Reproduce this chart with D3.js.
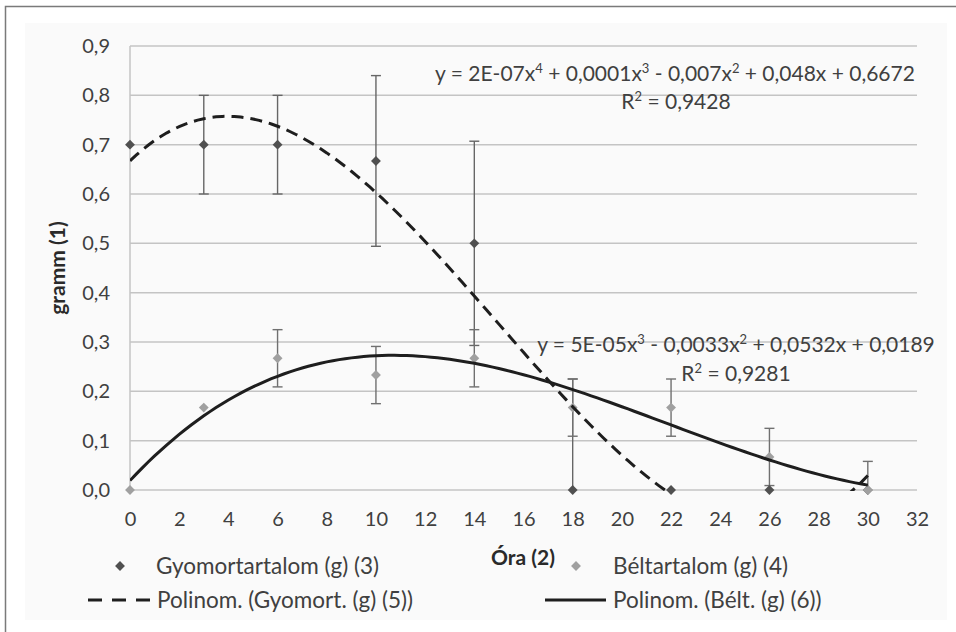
<!DOCTYPE html>
<html>
<head>
<meta charset="utf-8">
<script src="https://cdn.jsdelivr.net/npm/d3@7"></script>
<style>
  body { margin: 0; background: #fff; }
  svg text { font-family: Lato, "Open Sans", sans-serif; fill: #404040; }
</style>
</head>
<body>
<svg id="chart" width="956" height="632"></svg>
<script>
// data
var hours = [0, 3, 6, 10, 14, 18, 22, 26, 30];
var gyomor = [0.7, 0.7, 0.7, 0.667, 0.5, 0, 0, 0, 0];
var gyomorErr = [0, 0.1, 0.1, 0.173, 0.207, 0.225, 0, 0, 0];
var belt = [0, 0.167, 0.267, 0.233, 0.267, 0.167, 0.167, 0.067, 0];
var beltErr = [0, 0, 0.058, 0.058, 0.058, 0.058, 0.058, 0.058, 0.058];
var xTicks = d3.range(0, 33, 2);
var yTicks = [0, 0.1, 0.2, 0.3, 0.4, 0.5, 0.6, 0.7, 0.8, 0.9];

(function () {
var svg = d3.select("#chart");
var pLeft = 130, pRight = 917, pTop = 46, pBottom = 490;

var x = d3.scaleLinear().domain([0, 32]).range([pLeft, pRight]);
var y = d3.scaleLinear().domain([0, 0.9]).range([pBottom, pTop]);
var fmt = function (v) { return d3.format(".1f")(v).replace(".", ","); };

// frame + chart area
svg.append("rect").attr("x", 5.5).attr("y", 6.5).attr("width", 960).attr("height", 640)
    .attr("fill", "#fff").attr("stroke", "#7a7a7a").attr("stroke-width", 1.5);
svg.append("rect").attr("x", 25).attr("y", 23).attr("width", 922).attr("height", 597)
    .attr("fill", "#fafafa");

// grid
var grid = svg.append("g").attr("class", "grid");
grid.selectAll("line").data(yTicks).enter().append("line")
    .attr("x1", pLeft).attr("x2", pRight)
    .attr("y1", function (d) { return y(d); }).attr("y2", function (d) { return y(d); })
    .attr("stroke", "#c4c4c4").attr("stroke-width", 1.5);
grid.append("line").attr("x1", pLeft).attr("x2", pLeft).attr("y1", pTop).attr("y2", pBottom)
    .attr("stroke", "#c4c4c4").attr("stroke-width", 1.5);

// axes (labels only)
var yAxis = d3.axisLeft(y).tickValues(yTicks).tickFormat(fmt).tickSize(0).tickPadding(20);
var gy = svg.append("g").attr("transform", "translate(" + pLeft + ",0)").call(yAxis);
var xAxis = d3.axisBottom(x).tickValues(xTicks).tickSize(0).tickPadding(22);
var gx = svg.append("g").attr("transform", "translate(0," + pBottom + ")").call(xAxis);
[gx, gy].forEach(function (g) {
    g.select(".domain").remove();
    g.selectAll("text").style("font-size", "20px").attr("fill", "#444");
});

svg.append("text").attr("transform", "translate(65,268) rotate(-90)")
    .attr("text-anchor", "middle").style("font-size", "21px").style("font-weight", "bold")
    .style("fill", "#2a2a2a").text("gramm (1)");
svg.append("text").attr("x", 523).attr("y", 565).attr("text-anchor", "middle")
    .style("font-size", "21px").style("font-weight", "bold").style("fill", "#2a2a2a").text("Óra (2)");

// least squares polynomial fit (what the spreadsheet trendline does)
function polyfit(xs, ys, order) {
    var n = order + 1, A = [], b = [];
    for (var i = 0; i < n; i++) {
        A.push([]);
        for (var j = 0; j < n; j++) A[i].push(d3.sum(xs, function (v) { return Math.pow(v, i + j); }));
        b.push(d3.sum(xs, function (v, k) { return ys[k] * Math.pow(v, i); }));
    }
    for (var c = 0; c < n; c++) {
        var p = c;
        for (var r = c + 1; r < n; r++) if (Math.abs(A[r][c]) > Math.abs(A[p][c])) p = r;
        var t = A[c]; A[c] = A[p]; A[p] = t; var tb = b[c]; b[c] = b[p]; b[p] = tb;
        for (var r2 = c + 1; r2 < n; r2++) {
            var f = A[r2][c] / A[c][c];
            for (var k = c; k < n; k++) A[r2][k] -= f * A[c][k];
            b[r2] -= f * b[c];
        }
    }
    var coef = new Array(n);
    for (var r3 = n - 1; r3 >= 0; r3--) {
        var s = b[r3];
        for (var k2 = r3 + 1; k2 < n; k2++) s -= A[r3][k2] * coef[k2];
        coef[r3] = s / A[r3][r3];
    }
    return function (v) { return d3.sum(coef, function (cf, i) { return cf * Math.pow(v, i); }); };
}

svg.append("clipPath").attr("id", "plotclip").append("rect")
    .attr("x", pLeft).attr("y", pTop).attr("width", pRight - pLeft).attr("height", pBottom - pTop + 1);

// error bars
function errorBars(vals, errs, color) {
    var g = svg.append("g").attr("clip-path", "url(#plotclip)");
    hours.forEach(function (h, i) {
        if (!errs[i]) return;
        var lo = vals[i] - errs[i], hi = vals[i] + errs[i];
        g.append("line").attr("x1", x(h)).attr("x2", x(h)).attr("y1", y(lo)).attr("y2", y(hi))
            .attr("stroke", color).attr("stroke-width", 1.4);
        [lo, hi].forEach(function (v) {
            g.append("line").attr("x1", x(h) - 5).attr("x2", x(h) + 5).attr("y1", y(v)).attr("y2", y(v))
                .attr("stroke", color).attr("stroke-width", 1.4);
        });
    });
}
errorBars(gyomor, gyomorErr, "#666");
errorBars(belt, beltErr, "#707070");

var diamond = d3.symbol().type(d3.symbolDiamond2).size(62);
function markers(vals, color) {
    svg.append("g").selectAll("path").data(hours).enter().append("path")
        .attr("d", diamond)
        .attr("transform", function (d, i) { return "translate(" + x(d) + "," + y(vals[i]) + ")"; })
        .attr("fill", color);
}
markers(gyomor, "#505050");
markers(belt, "#a0a0a0");

// trendlines
var fitG = polyfit(hours, gyomor, 4);
var fitB = polyfit(hours, belt, 3);
var xs = d3.range(0, 30.01, 0.25);
var line = function (fn) {
    return d3.line().x(function (d) { return x(d); }).y(function (d) { return y(fn(d)); })(xs);
};
var trends = svg.append("g").attr("clip-path", "url(#plotclip)");
trends.append("path").attr("d", line(fitG)).attr("fill", "none")
    .attr("stroke", "#1e1e1e").attr("stroke-width", 3).attr("stroke-dasharray", "12,7");
trends.append("path").attr("d", line(fitB)).attr("fill", "none")
    .attr("stroke", "#1e1e1e").attr("stroke-width", 3);

// equations
function equation(xc, yc, parts, size) {
    var t = svg.append("text").attr("x", xc).attr("y", yc).attr("text-anchor", "middle").style("font-size", size + "px");
    var back = 0;
    parts.forEach(function (p) {
        if (typeof p === "object") {
            t.append("tspan").attr("dy", -8).style("font-size", Math.round(size * 0.62) + "px").text(p.s);
            back = 8;
        } else {
            t.append("tspan").attr("dy", back).text(p);
            back = 0;
        }
    });
    return t;
}
equation(675, 81, ["y = 2E-07x", {s: "4"}, " + 0,0001x", {s: "3"}, " - 0,007x", {s: "2"}, " + 0,048x + 0,6672"], 21);
equation(676, 109, ["R", {s: "2"}, " = 0,9428"], 21);
equation(736, 352, ["y = 5E-05x", {s: "3"}, " - 0,0033x", {s: "2"}, " + 0,0532x + 0,0189"], 21);
equation(736, 381, ["R", {s: "2"}, " = 0,9281"], 21);

// legend
var leg = svg.append("g").style("font-size", "22.5px");
leg.append("path").attr("d", diamond).attr("transform", "translate(120,566)").attr("fill", "#505050");
leg.append("text").attr("x", 156).attr("y", 574).text("Gyomortartalom (g) (3)");
leg.append("path").attr("d", diamond).attr("transform", "translate(576,566)").attr("fill", "#a0a0a0");
leg.append("text").attr("x", 613).attr("y", 574).text("Béltartalom (g) (4)");
leg.append("line").attr("x1", 88).attr("x2", 150).attr("y1", 600).attr("y2", 600)
    .attr("stroke", "#1e1e1e").attr("stroke-width", 3).attr("stroke-dasharray", "14,10");
leg.append("text").attr("x", 157).attr("y", 608).text("Polinom. (Gyomort. (g) (5))");
leg.append("line").attr("x1", 545).attr("x2", 606).attr("y1", 600).attr("y2", 600)
    .attr("stroke", "#1e1e1e").attr("stroke-width", 3);
leg.append("text").attr("x", 613).attr("y", 608).text("Polinom. (Bélt. (g) (6))");
})();
</script>
</body>
</html>
